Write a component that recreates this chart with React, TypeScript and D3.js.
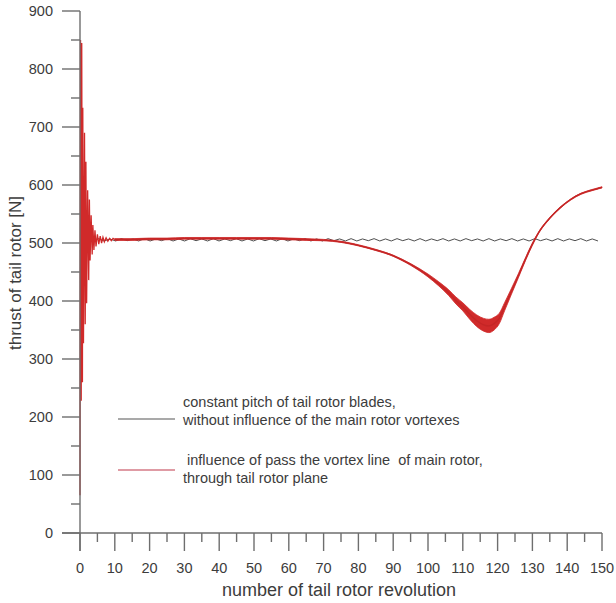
import React from "react";
import * as d3 from "d3";

// Axis ticks
const xMajorTicks = [0, 10, 20, 30, 40, 50, 60, 70, 80, 90, 100, 110, 120, 130, 140, 150];
const xMinorTicks = [5, 15, 25, 35, 45, 55, 65, 75, 85, 95, 105, 115, 125, 135, 145];
const yMajorTicks = [0, 100, 200, 300, 400, 500, 600, 700, 800, 900];
const yMinorTicks = [50, 150, 250, 350, 450, 550, 650, 750, 850];

// Constant pitch, no vortex influence: steady thrust with a small ripple
const blackStartRev = 2;
const blackStepRev = 1.65;
const blackThrust = [
  507, 504, 507.5, 503.5, 507, 503.5, 507.5, 504, 507, 503.5,
  507.5, 503.5, 507, 504, 507.5, 503.5, 507, 503.5, 507.5, 504,
  507, 503.5, 507.5, 503.5, 507, 504, 507.5, 503.5, 507, 503.5,
  507.5, 504, 507, 503.5, 507.5, 503.5, 507, 504, 507.5, 503.5,
  507, 503.5, 507.5, 504, 507, 503.5, 507.5, 503.5, 507, 504,
  507.5, 503.5, 507, 503.5, 507.5, 504, 507, 503.5, 507.5, 503.5,
  507, 504, 507.5, 503.5, 507, 503.5, 507.5, 504, 507, 503.5,
  507.5, 503.5, 507, 504, 507.5, 503.5, 507, 503.5, 507.5, 504,
  507, 503.5, 507.5, 503.5, 507, 504, 507.5, 503.5, 507, 503.5,
];

// Vortex line passage: start-up transient (revolutions 0-10)
const transientRev = [
  0, 0.15, 0.35, 0.5, 0.7, 0.8, 1.0, 1.3, 1.5, 1.7, 1.9, 2.2, 2.5, 2.7, 2.9,
  3.2, 3.5, 3.7, 4.0, 4.3, 4.6, 5.0, 5.4, 5.8, 6.2, 6.6, 7.0, 7.5, 8.0, 8.5,
  9.0, 9.5, 10,
];
const transientThrust = [
  65, 850, 228, 845, 260, 733, 327, 690, 360, 640, 396, 591, 436, 575, 470,
  548, 480, 531, 488, 522, 494, 515, 498, 512, 500, 510, 502, 509, 503, 508,
  504, 508, 506,
];

// Vortex line passage: mean thrust and half-width of the per-revolution band
const bandRev = [
  10, 15, 20, 25, 30, 35, 40, 45, 50, 55, 60, 65, 70, 75, 80, 85, 90, 95, 100,
  103, 106, 108, 110, 112, 114, 116, 117.5, 119, 120.5, 122, 124, 126, 128,
  130, 132, 135, 138, 141, 144, 147, 150,
];
const bandMid = [
  506, 506, 507, 507, 508, 508, 508, 508, 508, 508, 507, 506, 505, 502, 496,
  488, 478, 463, 444, 430, 414, 401, 390, 377, 366, 359, 357, 361, 370, 390,
  417, 444, 472, 498, 520, 543, 561, 575, 585, 591, 596,
];
const bandHalf = [
  1.5, 1.5, 1.5, 1.5, 1.5, 1.5, 1.5, 1.5, 1.5, 1.5, 1.5, 1.5, 1.2, 1, 1, 1,
  1, 1.5, 2.5, 3.5, 5, 6, 7, 8.5, 10, 11, 11.5, 11, 9, 7, 5, 3.5, 2.5, 2, 1.2,
  1, 1, 1, 1, 1, 1,
];

const W = 616;
const H = 603;
const left = 80;
const right = 602;
const top = 11;
const bottom = 533;
const ext = 18;

const FONT = "'Liberation Sans', Arial, sans-serif";
const TEXT = "#3c3c3c";
const AXIS = "#6e6e6e";
const RED = "#d02a2a";

export default function App() {
  const x = d3.scaleLinear().domain([0, 150]).range([left, right]);
  const y = d3.scaleLinear().domain([0, 900]).range([bottom, top]);

  const blackPts = blackThrust
    .map((v, i) => [blackStartRev + i * blackStepRev, v] as [number, number])
    .filter((p) => p[0] <= 150);

  const line = d3
    .line<[number, number]>()
    .x((d) => x(d[0]))
    .y((d) => y(d[1]));

  const blackPath = line(blackPts) || "";
  const transientPath =
    line(transientRev.map((r, i) => [r, transientThrust[i]] as [number, number])) || "";

  const band = d3
    .area<number>()
    .x((_, i) => x(bandRev[i]))
    .y0((_, i) => y(bandMid[i] - bandHalf[i]))
    .y1((_, i) => y(bandMid[i] + bandHalf[i]))
    .curve(d3.curveMonotoneX);
  const bandPath = band(bandRev) || "";

  const smoothMid =
    d3
      .line<number>()
      .x((_, i) => x(bandRev[i]))
      .y((_, i) => y(bandMid[i]))
      .curve(d3.curveMonotoneX)(bandRev) || "";

  return (
    <svg
      width={W}
      height={H}
      style={{ position: "absolute", left: 0, top: 0, background: "#ffffff" }}
      fontFamily={FONT}
    >
      {/* series */}
      <path d={blackPath} fill="none" stroke="#3a3a3a" strokeWidth={0.9} />
      <path d={bandPath} fill={RED} stroke={RED} strokeWidth={0.8} />
      <path d={smoothMid} fill="none" stroke="#c42626" strokeWidth={1.4} />
      <path d={transientPath} fill="none" stroke={RED} strokeWidth={1.3} />

      {/* axes */}
      <g stroke={AXIS} strokeWidth={1.4} fill="none">
        <line x1={left} x2={left} y1={top} y2={bottom + ext} />
        <line x1={left - ext} x2={right} y1={bottom} y2={bottom} />
        {yMajorTicks.map((t) => (
          <line key={"ym" + t} x1={left - ext} x2={left} y1={y(t)} y2={y(t)} />
        ))}
        {yMinorTicks.map((t) => (
          <line key={"yn" + t} x1={left - 9} x2={left} y1={y(t)} y2={y(t)} />
        ))}
        {xMajorTicks.map((t) => (
          <line key={"xm" + t} x1={x(t)} x2={x(t)} y1={bottom} y2={bottom + ext} />
        ))}
        {xMinorTicks.map((t) => (
          <line key={"xn" + t} x1={x(t)} x2={x(t)} y1={bottom} y2={bottom + 9} />
        ))}
      </g>

      {/* tick labels */}
      <g fill={TEXT} fontSize={14.5}>
        {yMajorTicks.map((t) => (
          <text key={"yl" + t} x={53} y={y(t)} dy="0.35em" textAnchor="end">
            {t}
          </text>
        ))}
        {xMajorTicks.map((t) => (
          <text key={"xl" + t} x={x(t)} y={573} textAnchor="middle">
            {t}
          </text>
        ))}
      </g>

      {/* axis titles */}
      <text x={(left + right) / 2 - 2} y={596} textAnchor="middle" fontSize={18} fill={TEXT}>
        number of tail rotor revolution
      </text>
      <text
        transform={`translate(21,${(top + bottom) / 2 + 1}) rotate(-90)`}
        textAnchor="middle"
        fontSize={17}
        fill={TEXT}
      >
        thrust of tail rotor [N]
      </text>

      {/* legend */}
      <line x1={118} x2={175} y1={419} y2={419} stroke="#555" strokeWidth={1.2} />
      <g fill={TEXT} fontSize={14.5}>
        <text x={183} y={407}>constant pitch of tail rotor blades,</text>
        <text x={183} y={425}>without influence of the main rotor vortexes</text>
      </g>
      <line x1={118} x2={175} y1={470} y2={470} stroke="#c0394a" strokeWidth={1.2} />
      <g fill={TEXT} fontSize={14.5} style={{ whiteSpace: "pre" }}>
        <text x={183} y={465} xmlSpace="preserve">
          {" influence of pass the vortex line  of main rotor,"}
        </text>
        <text x={183} y={483}>through tail rotor plane</text>
      </g>
    </svg>
  );
}
